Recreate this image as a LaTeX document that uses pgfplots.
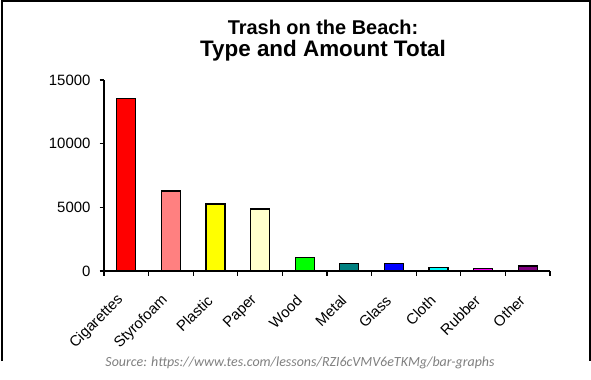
\documentclass[border=0pt]{standalone}
\usepackage{fontspec}
\setmainfont{Liberation Sans}
\newfontfamily\carlito{Carlito}
\usepackage{pgfplots}
\pgfplotsset{compat=1.18}
\definecolor{c1}{HTML}{FF0000}
\definecolor{c2}{HTML}{FF8080}
\definecolor{c3}{HTML}{FFFF00}
\definecolor{c4}{HTML}{FFFFCC}
\definecolor{c5}{HTML}{00FF00}
\definecolor{c6}{HTML}{008080}
\definecolor{c7}{HTML}{0000FF}
\definecolor{c8}{HTML}{00FFFF}
\definecolor{c9}{HTML}{FF00FF}
\definecolor{c10}{HTML}{800080}
\definecolor{srcgray}{HTML}{7F7F7F}
\begin{document}
\begin{tikzpicture}[x=1bp,y=1bp]
\useasboundingbox (0,0) rectangle (591,-379);
\draw[line width=1.8bp] (1.6,-361) -- (1.6,-0.9) -- (589.8,-0.9) -- (589.8,-361);
\begin{axis}[
  at={(126.3bp,-271bp)}, anchor=origin,
  scale only axis, width=446bp, height=191bp,
  xmin=-0.5, xmax=9.5, ymin=0, ymax=15000,
  axis x line*=bottom, axis y line*=left,
  axis line style={-, line width=1.3bp, black},
  tick align=outside,
  major tick length=4.5bp,
  tick style={line width=1.1bp, black},
  ytick={0,5000,10000,15000},
  yticklabel style={xshift=-5.5bp},
  xtick={-0.5,0.5,1.5,2.5,3.5,4.5,5.5,6.5,7.5,8.5,9.5},
  xticklabels={},
  extra x ticks={0,1,2,3,4,5,6,7,8,9},
  extra x tick labels={Cigarettes,Styrofoam,Plastic,Paper,Wood,Metal,Glass,Cloth,Rubber,Other},
  extra x tick style={tick style={draw=none},
    xticklabel style={rotate=45, anchor=east, xshift=-16.3bp, yshift=-11.9bp}},
  tick label style={font=\fontsize{15}{18}\selectfont},
  /pgf/number format/assume math mode=true,
  /pgf/number format/1000 sep={},
  scaled y ticks=false,
  ybar, bar width=19bp, bar shift=0pt,
  every axis plot/.append style={draw=black, line width=1.2bp},
  title={Trash on the Beach:\\[1bp]{\fontsize{22.5}{22}\selectfont Type and Amount Total}},
  title style={font=\bfseries\fontsize{20}{21}\selectfont, align=center,
    at={(0.5,1)}, anchor=north, inner sep=0pt, yshift=54bp, xshift=-4bp},
]
\addplot[fill=c1] coordinates {(0,13550)};
\addplot[fill=c2] coordinates {(1,6290)};
\addplot[fill=c3] coordinates {(2,5260)};
\addplot[fill=c4] coordinates {(3,4870)};
\addplot[fill=c5] coordinates {(4,1080)};
\addplot[fill=c6] coordinates {(5,610)};
\addplot[fill=c7] coordinates {(6,610)};
\addplot[fill=c8] coordinates {(7,290)};
\addplot[fill=c9] coordinates {(8,210)};
\addplot[fill=c10] coordinates {(9,395)};
\end{axis}
\node[font=\carlito\itshape\fontsize{14}{16}\selectfont, text=srcgray] at (300,-363) {Source: https://www.tes.com/lessons/RZI6cVMV6eTKMg/bar-graphs};
\end{tikzpicture}
\end{document}
